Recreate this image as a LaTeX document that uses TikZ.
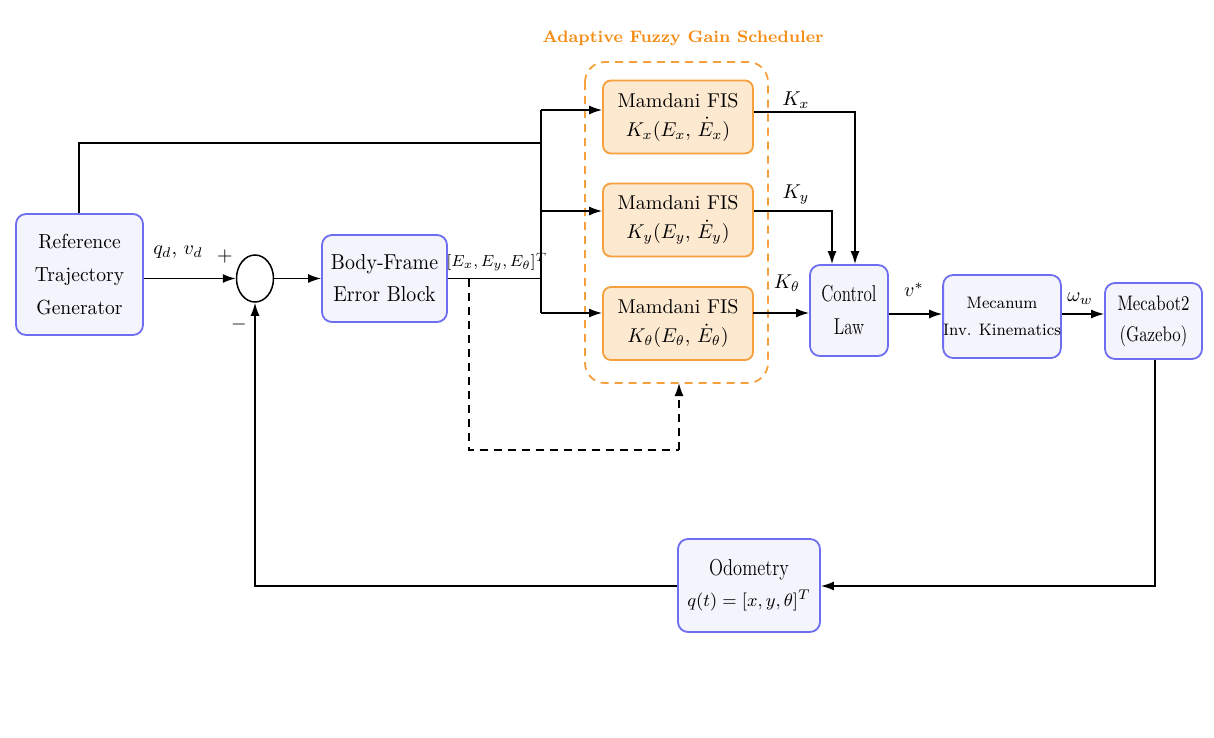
\documentclass[tikz,border=0pt]{standalone}
\usepackage{graphicx}
\usetikzlibrary{arrows.meta,shapes.geometric,calc}
\definecolor{bblue}{RGB}{110,110,240}
\definecolor{bfill}{RGB}{244,244,253}
\definecolor{oborder}{RGB}{245,160,60}
\definecolor{ofill}{RGB}{253,232,208}
\definecolor{otitle}{RGB}{245,140,20}
\newcommand\cnd[2]{\scalebox{#1}[1]{#2}}
\begin{document}
\begin{tikzpicture}[x=0.5pt,y=-0.5pt,
  blk/.style={draw=bblue,fill=bfill,line width=0.9pt,rounded corners=5pt,align=center,inner sep=0pt},
  fis/.style={draw=oborder,fill=ofill,line width=0.9pt,rounded corners=4pt,align=center,inner sep=0pt,
    minimum width=75pt,minimum height=36.5pt,font=\fontsize{10}{14.5}\selectfont},
  conn/.style={line width=0.75pt,-{Latex[length=6.5pt,width=4.5pt]}},
  wire/.style={line width=0.75pt},
  lbl/.style={inner sep=0pt,font=\fontsize{10}{12}\selectfont}]
\useasboundingbox[fill=white] (0,0) rectangle (1214,738);

% scheduler group
\draw[oborder,line width=0.9pt,dashed,dash pattern=on 4pt off 3pt,rounded corners=10pt] (585,62) rectangle (768,383);
\node[lbl,text=otitle,font=\fontsize{8.3}{10}\selectfont\bfseries] (title) at (683,38) {Adaptive Fuzzy Gain Scheduler};

% blocks
\node[blk,minimum width=63.5pt,minimum height=60.5pt,font=\fontsize{10.2}{16.5}\selectfont] (ref) at (79.5,274.5) {\cnd{0.96}{Reference}\\\cnd{0.96}{Trajectory}\\\cnd{0.96}{Generator}};
\node[draw,ellipse,line width=0.75pt,minimum width=18.5pt,minimum height=23.5pt,inner sep=0pt] (sum) at (255,278.5) {};
\node[blk,minimum width=62.5pt,minimum height=43.5pt,font=\fontsize{10.8}{16}\selectfont] (body) at (384.5,278.5) {\cnd{0.92}{Body-Frame}\\\cnd{0.92}{Error Block}};
\node[fis] (fx) at (678,117) {Mamdani FIS\\$K_x(E_x,\,\dot E_x)$};
\node[fis] (fy) at (678,220) {Mamdani FIS\\$K_y(E_y,\,\dot E_y)$};
\node[fis] (ft) at (678,323.5) {Mamdani FIS\\$K_\theta(E_\theta,\,\dot E_\theta)$};
\node[blk,minimum width=39pt,minimum height=45.5pt,font=\fontsize{11.5}{16.5}\selectfont] (cl) at (849,310.5) {\cnd{0.74}{Control}\\\cnd{0.74}{Law}};
\node[blk,minimum width=57pt,minimum height=41.5pt,font=\fontsize{8.3}{13.5}\selectfont] (mec) at (1002,316.5) {\cnd{0.95}{Mecanum}\\\cnd{0.95}{Inv. Kinematics}};
\node[blk,minimum width=48.5pt,minimum height=38pt,font=\fontsize{10.5}{15.5}\selectfont] (bot) at (1153.5,321) {\cnd{0.8}{Mecabot2}\\\cnd{0.8}{(Gazebo)}};
\node[blk,minimum width=71pt,minimum height=46.5pt,font=\fontsize{9.3}{15.5}\selectfont] (odo) at (749,585.5) {\cnd{0.8}{\fontsize{11.5}{13}\selectfont Odometry}\\$q(t)=[x,y,\theta]^T$};

% coordinates
\coordinate (top1) at (79,143);
\coordinate (top2) at (541,143);
\coordinate (bx) at (541,110);
\coordinate (by) at (541,211);
\coordinate (bt) at (541,313);
\coordinate (ej) at (541,278.5);
\coordinate (d1) at (469,278.5);
\coordinate (d2) at (469,450);
\coordinate (d3) at (679,450);
\coordinate (d4) at (679,383);
\coordinate (kx1) at (855,112);
\coordinate (ky1) at (832,211);
\coordinate (kt1) at (753,313);
\coordinate (ob) at (1155,586);

% connectors
\draw[conn] (ref.east |- sum.west) -- (sum.west);
\draw[conn] (sum.east) -- (body.west);
\draw[wire] (ref.north -| top1) -- (top1) -- (top2) -- (bx);
\draw[wire] (body.east |- ej) -- (ej);
\draw[wire] (bx) -- (bt);
\draw[conn] (bx) -- (bx -| fx.west);
\draw[conn] (by) -- (by -| fy.west);
\draw[conn] (bt) -- (bt -| ft.west);
\draw[wire,dashed,dash pattern=on 4pt off 3pt] (d1) -- (d2) -- (d3);
\draw[conn,dashed,dash pattern=on 4pt off 3pt] (d3) -- (d4);
\draw[conn] (fx.east |- kx1) -- (kx1) -- (kx1 |- cl.north);
\draw[conn] (fy.east |- ky1) -- (ky1) -- (ky1 |- cl.north);
\draw[conn] (kt1) -- (kt1 -| cl.west);
\draw[conn] (cl.east |- 0,314) -- (mec.west |- 0,314);
\draw[conn] (mec.east |- 0,314) -- (bot.west |- 0,314);
\draw[conn] (bot.south -| ob) -- (ob) -- (odo.east |- ob);
\draw[conn] (odo.west |- ob) -- (sum.south |- ob) -- (sum.south);

% labels
\node[lbl] (lq) at (178,252) {$q_d,\,v_d$};
\node[lbl] (lplus) at (225,256) {$+$};
\node[lbl] (lminus) at (239,324) {$-$};
\node[lbl,font=\fontsize{8.3}{10}\selectfont] (le) at (497,262) {$[E_x,E_y,E_\theta]^T$};
\node[lbl] (lkx) at (796,100) {$K_x$};
\node[lbl] (lky) at (796,195) {$K_y$};
\node[lbl] (lkt) at (787,283) {$K_\theta$};
\node[lbl] (lv) at (914,290) {$v^*$};
\node[lbl] (lw) at (1080,299) {$\omega_w$};
\end{tikzpicture}
\end{document}
